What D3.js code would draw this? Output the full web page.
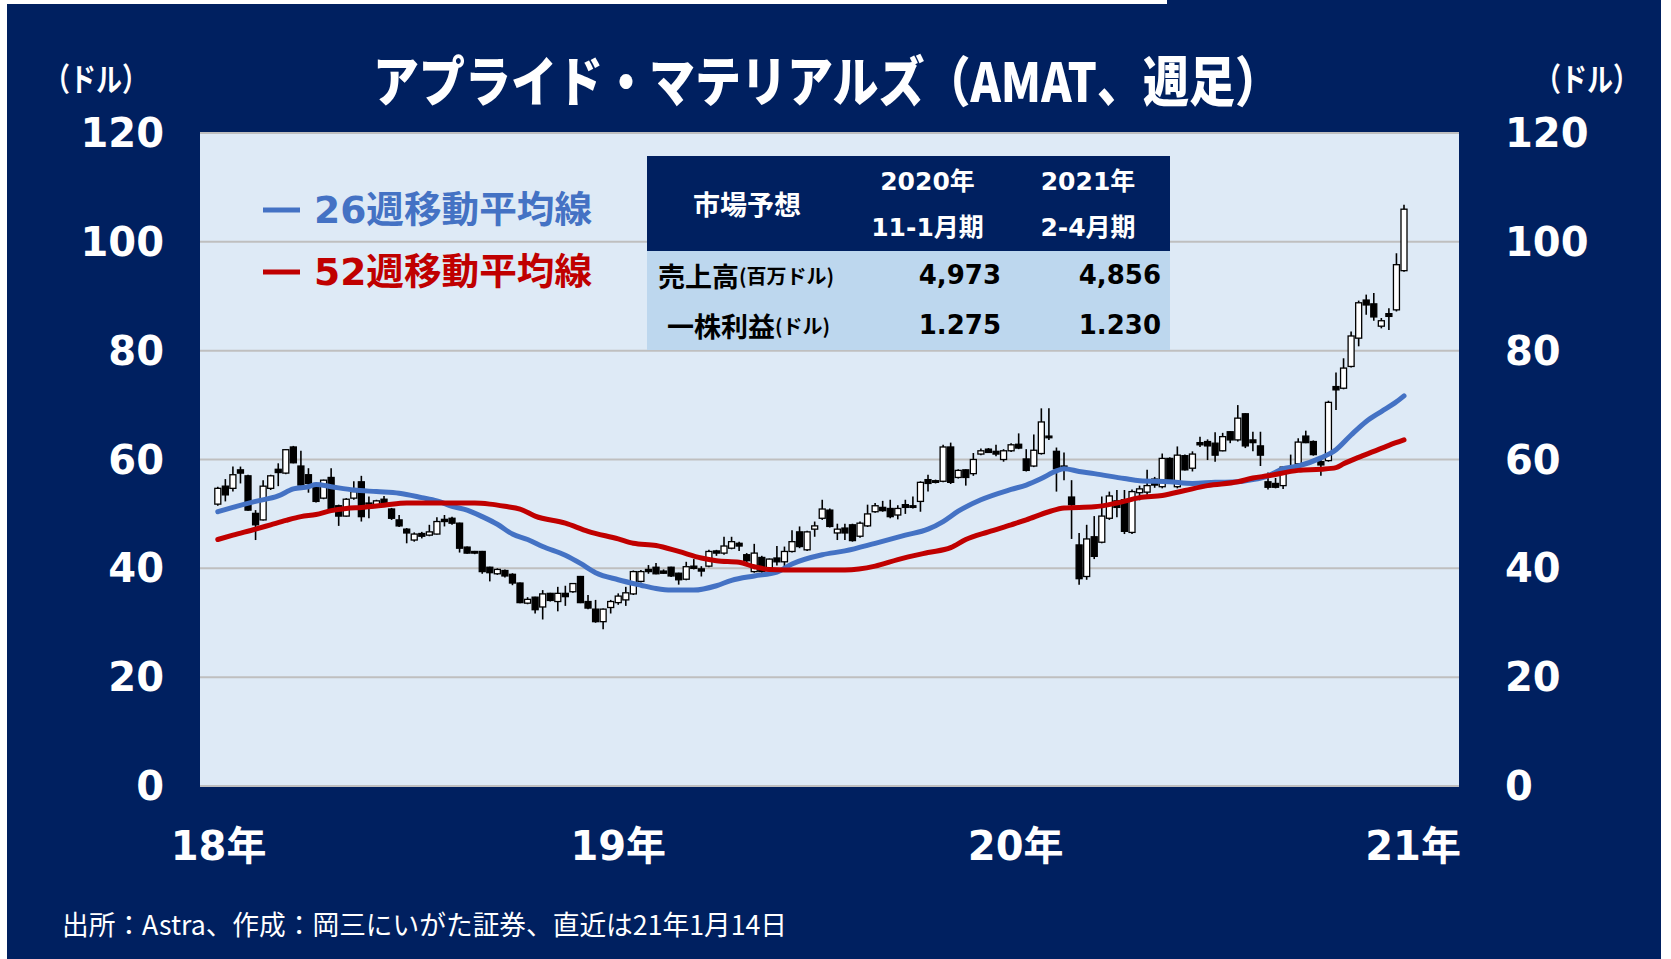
<!DOCTYPE html>
<html>
<head>
<meta charset="utf-8">
<script src="https://cdn.jsdelivr.net/npm/d3@7"></script>
<style>
  body { margin: 0; background: #ffffff; }
  svg { display: block; }
</style>
</head>
<body>
<script>
// weekly candles, 2018-01 .. 2021-01-14 (158 weeks)
var open = [
  51.8, 55.1, 54.7, 58.1, 57.0, 50.1, 48.9, 54.7, 58.2, 57.5,
  62.3, 58.8, 57.2, 55.5, 52.9, 56.7, 51.5, 49.6, 52.9, 55.9,
  52.0, 51.4, 52.7, 50.9, 48.9, 47.2, 45.2, 46.4, 46.1, 46.3,
  49.0, 49.2, 48.3, 43.9, 43.1, 43.1, 40.2, 39.0, 39.6, 38.9,
  37.3, 33.6, 34.7, 32.9, 35.4, 33.9, 35.4, 35.7, 38.5, 33.9,
  32.5, 30.2, 32.8, 33.7, 34.2, 35.3, 37.6, 39.8, 40.2, 39.5,
  40.2, 39.1, 38.0, 40.4, 39.9, 40.4, 43.2, 42.8, 43.7, 44.6,
  42.5, 39.4, 42.0, 40.0, 41.9, 41.2, 43.1, 46.7, 43.4, 47.2,
  49.2, 50.7, 46.5, 47.4, 48.0, 45.9, 47.8, 50.4, 51.2, 51.0,
  49.8, 51.7, 51.5, 52.3, 56.3, 56.1, 56.0, 62.3, 56.7, 58.1,
  57.4, 61.0, 61.9, 61.5, 60.0, 61.6, 62.8, 60.1, 58.8, 61.1,
  64.3, 61.5, 58.8, 53.1, 44.3, 38.5, 45.8, 44.8, 49.2, 52.4,
  52.6, 46.6, 53.9, 54.0, 56.4, 55.0, 60.2, 55.0, 60.7, 58.4,
  63.1, 63.3, 63.0, 61.6, 65.1, 63.6, 68.4, 63.6, 62.5, 55.9,
  55.6, 55.2, 58.3, 59.2, 64.3, 63.3, 59.6, 59.8, 73.4, 73.1,
  77.1, 82.3, 89.3, 88.6, 84.5, 86.8, 87.5, 94.7
];
var high = [
  55.0, 56.4, 58.7, 58.7, 57.2, 50.7, 56.2, 57.2, 59.3, 61.9,
  62.5, 61.6, 58.4, 55.6, 56.3, 58.4, 51.7, 52.9, 56.0, 57.0,
  53.2, 52.6, 53.3, 51.1, 49.8, 47.4, 46.6, 46.7, 48.0, 49.4,
  49.8, 49.5, 48.4, 44.0, 43.2, 43.2, 40.3, 40.0, 39.8, 39.1,
  37.4, 34.7, 34.8, 36.0, 35.5, 36.6, 36.8, 37.3, 38.6, 35.1,
  34.2, 32.6, 34.2, 35.4, 36.6, 39.6, 39.7, 40.6, 41.0, 39.8,
  40.3, 39.2, 41.2, 41.7, 40.4, 43.4, 43.4, 45.8, 45.8, 44.9,
  42.8, 44.5, 42.3, 41.8, 44.1, 44.0, 47.0, 47.7, 46.9, 48.6,
  52.6, 51.0, 48.2, 48.2, 48.2, 48.6, 51.7, 52.0, 52.4, 52.6,
  51.6, 52.6, 53.2, 56.0, 57.2, 56.3, 62.7, 63.1, 58.2, 58.2,
  61.2, 62.0, 62.1, 62.7, 61.9, 63.0, 64.8, 61.9, 64.6, 69.4,
  69.4, 62.2, 61.3, 56.2, 46.5, 48.0, 49.6, 53.2, 54.1, 54.4,
  54.4, 54.5, 55.2, 58.1, 56.8, 61.1, 60.4, 62.4, 60.9, 61.5,
  64.2, 63.7, 65.0, 64.9, 65.2, 70.0, 68.5, 65.1, 65.1, 57.6,
  56.6, 58.7, 60.9, 63.9, 65.3, 63.5, 60.5, 70.8, 76.0, 78.6,
  83.5, 89.2, 90.3, 90.6, 86.0, 87.8, 97.9, 106.8
];
var low = [
  51.5, 52.3, 54.1, 55.6, 50.6, 45.2, 48.8, 54.4, 55.1, 57.3,
  59.3, 55.2, 53.9, 52.1, 52.7, 50.8, 47.8, 49.5, 52.6, 48.6,
  49.2, 51.1, 51.7, 48.9, 47.6, 44.6, 44.9, 45.5, 45.9, 46.2,
  47.7, 48.0, 42.9, 42.7, 42.6, 39.0, 37.6, 38.8, 38.3, 36.9,
  33.6, 33.4, 31.7, 30.6, 33.9, 32.1, 33.1, 35.5, 33.6, 32.5,
  30.0, 28.8, 31.7, 33.3, 33.1, 35.1, 37.4, 39.0, 38.9, 39.0,
  38.4, 37.0, 37.8, 39.8, 38.5, 40.2, 42.3, 42.5, 43.5, 43.2,
  40.9, 39.2, 39.2, 39.8, 40.5, 40.2, 42.9, 43.7, 43.2, 45.8,
  48.9, 47.5, 45.2, 45.2, 44.9, 45.6, 47.6, 50.2, 50.4, 49.2,
  49.0, 50.0, 51.0, 50.4, 54.1, 55.6, 55.8, 55.5, 56.5, 55.2,
  57.0, 60.8, 61.2, 60.6, 59.6, 61.4, 61.9, 57.8, 58.6, 60.9,
  63.6, 54.1, 56.2, 45.4, 37.0, 37.9, 41.7, 44.6, 48.9, 49.4,
  46.3, 46.3, 52.5, 53.5, 54.8, 54.7, 56.1, 54.7, 58.0, 57.8,
  62.3, 59.9, 59.6, 61.5, 63.0, 63.3, 62.1, 61.5, 58.8, 54.5,
  54.7, 54.6, 57.5, 59.0, 63.0, 60.7, 57.0, 59.6, 69.1, 72.9,
  76.9, 80.8, 86.6, 85.5, 84.1, 83.8, 87.2, 94.5
];
var close = [
  54.7, 53.5, 57.2, 57.5, 50.7, 48.0, 55.1, 57.0, 57.6, 61.8,
  59.4, 55.3, 55.6, 52.3, 56.2, 51.0, 49.6, 52.7, 54.1, 49.5,
  51.8, 52.4, 52.1, 49.2, 47.8, 46.5, 46.3, 45.9, 46.7, 48.6,
  48.6, 48.3, 43.7, 42.8, 42.8, 39.4, 39.2, 39.8, 38.6, 37.3,
  33.7, 34.3, 32.4, 35.3, 34.1, 35.4, 34.8, 37.2, 33.7, 32.7,
  30.2, 32.5, 33.9, 34.9, 35.5, 39.4, 39.4, 39.4, 39.0, 39.1,
  38.6, 37.9, 40.3, 40.0, 39.5, 43.1, 42.8, 44.1, 44.9, 44.1,
  41.4, 42.8, 39.4, 41.7, 41.2, 43.1, 44.9, 44.0, 46.7, 47.8,
  50.9, 47.7, 47.2, 46.5, 45.1, 48.3, 50.0, 51.5, 50.6, 49.5,
  51.0, 51.2, 51.2, 55.8, 55.6, 55.8, 62.3, 55.8, 58.0, 56.7,
  60.0, 61.6, 61.3, 61.0, 61.6, 62.7, 62.1, 58.0, 61.7, 66.9,
  64.0, 58.3, 58.4, 51.7, 38.1, 45.4, 42.2, 49.6, 53.3, 51.2,
  46.8, 54.1, 54.6, 55.2, 55.3, 60.2, 56.2, 60.8, 58.1, 61.0,
  62.7, 62.5, 60.8, 64.2, 63.6, 67.6, 62.5, 63.1, 60.8, 54.9,
  54.9, 58.6, 58.6, 63.2, 63.1, 60.9, 59.0, 70.5, 72.8, 76.8,
  82.7, 88.8, 88.4, 86.2, 85.5, 86.3, 95.8, 106.0
];

// moving averages read at sample weeks
var ma26Week = [0, 2, 5, 8, 10, 12, 13, 15, 18, 21, 24, 27, 29, 31, 33, 35, 37, 39, 41, 43, 46, 48, 50, 53, 56, 58, 60, 63, 66, 68, 71, 74, 76, 80, 83, 87, 91, 94, 96, 98, 101, 105, 107, 109, 111, 112, 114, 116, 120, 122, 126, 129, 132, 135, 137, 139, 141, 143, 146, 148, 150, 152, 154, 156, 157];
var ma26 = [50.4, 51.2, 52.3, 53.3, 54.6, 55.0, 55.4, 55.0, 54.4, 54.1, 53.8, 53.0, 52.4, 51.4, 50.7, 49.5, 48.1, 46.3, 45.3, 44.0, 42.4, 40.9, 39.2, 37.9, 36.9, 36.3, 36.0, 36.0, 36.8, 37.8, 38.6, 39.3, 40.8, 42.5, 43.2, 44.6, 46.1, 47.2, 48.6, 50.5, 52.6, 54.5, 55.3, 56.5, 57.9, 58.3, 57.8, 57.4, 56.5, 56.1, 55.9, 55.6, 55.8, 55.9, 56.3, 57.0, 58.3, 58.8, 60.3, 61.8, 64.5, 67.0, 68.8, 70.6, 71.7];
var ma52Week = [0, 2, 5, 7, 9, 11, 13, 15, 17, 19, 22, 25, 30, 34, 36, 38, 40, 42, 46, 49, 53, 55, 58, 61, 64, 66, 69, 71, 73, 77, 83, 87, 90, 94, 97, 99, 102, 105, 107, 110, 112, 116, 119, 122, 125, 128, 131, 135, 137, 139, 143, 146, 148, 149, 151, 153, 155, 157];
var ma52 = [45.3, 46.1, 47.2, 48.0, 48.8, 49.5, 49.9, 50.6, 51.0, 51.2, 51.6, 52.0, 52.0, 52.0, 51.8, 51.4, 50.9, 49.6, 48.3, 46.8, 45.4, 44.6, 44.2, 43.1, 41.9, 41.4, 41.1, 40.3, 39.8, 39.7, 39.7, 40.4, 41.6, 42.9, 43.8, 45.3, 46.7, 48.0, 48.9, 50.4, 51.1, 51.3, 52.0, 53.0, 53.4, 54.3, 55.2, 55.9, 56.6, 57.0, 58.0, 58.2, 58.5, 59.2, 60.4, 61.5, 62.6, 63.6];

var yTicks = [0, 20, 40, 60, 80, 100, 120];
var yearLabels = ["18年", "19年", "20年", "21年"];
var yearWeek = [0.1, 53, 105.6, 158.2];

var tableCols = [["2020年", "11-1月期"], ["2021年", "2-4月期"]];
var tableRows = [["売上高", "(百万ドル)"], ["一株利益", "(ドル)"]];
var tableVals = [["4,973", "4,856"], ["1.275", "1.230"]];

var W = 1671, H = 959;
var navy = "#002060";
var JP = "'Noto Sans CJK JP', sans-serif";
var NUM = "'DejaVu Sans', 'Noto Sans CJK JP', sans-serif";

var svg = d3.select("body").append("svg").attr("width", W).attr("height", H);

svg.append("rect").attr("x", 7).attr("y", 0).attr("width", 1654).attr("height", H).attr("fill", navy);
svg.append("rect").attr("x", 0).attr("y", 0).attr("width", 1167).attr("height", 4).attr("fill", "#ffffff");

var plotL = 200, plotR = 1459, plotT = 133, plotB = 786;
var x = d3.scaleLinear().domain([0, open.length - 1]).range([217.8, 1404]);
var y = d3.scaleLinear().domain([0, 120]).range([plotB, plotT]);

svg.append("rect").attr("x", plotL).attr("y", plotT).attr("width", plotR - plotL).attr("height", plotB - plotT)
  .attr("fill", "#deeaf6");

svg.selectAll("line.grid").data(yTicks).enter().append("line")
  .attr("x1", plotL).attr("x2", plotR)
  .attr("y1", function (d) { return y(d); }).attr("y2", function (d) { return y(d); })
  .attr("stroke", "#bfbfbf").attr("stroke-width", 2);

// axis labels
svg.selectAll("text.yl").data(yTicks).enter().append("text")
  .attr("x", 164).attr("y", function (d) { return y(d); })
  .attr("text-anchor", "end").attr("dominant-baseline", "central")
  .attr("font-family", NUM).attr("font-weight", "bold").attr("font-size", 40)
  .attr("fill", "#ffffff").text(function (d) { return d; });
svg.selectAll("text.yr").data(yTicks).enter().append("text")
  .attr("x", 1505).attr("y", function (d) { return y(d); })
  .attr("text-anchor", "start").attr("dominant-baseline", "central")
  .attr("font-family", NUM).attr("font-weight", "bold").attr("font-size", 40)
  .attr("fill", "#ffffff").text(function (d) { return d; });

svg.selectAll("text.xl").data(yearLabels).enter().append("text")
  .attr("x", function (d, i) { return x(yearWeek[i]); }).attr("y", 846)
  .attr("text-anchor", "middle").attr("dominant-baseline", "central")
  .attr("font-family", NUM).attr("font-weight", "bold").attr("font-size", 40)
  .attr("fill", "#ffffff").text(function (d) { return d; });

// candles
var idx = d3.range(open.length);
var cg = svg.append("g");
cg.selectAll("line").data(idx).enter().append("line")
  .attr("x1", function (i) { return x(i); }).attr("x2", function (i) { return x(i); })
  .attr("y1", function (i) { return y(high[i]); }).attr("y2", function (i) { return y(low[i]); })
  .attr("stroke", "#000").attr("stroke-width", 1.6);
cg.selectAll("rect").data(idx).enter().append("rect")
  .attr("x", function (i) { return x(i) - 3; }).attr("width", 6)
  .attr("y", function (i) { return y(Math.max(open[i], close[i])); })
  .attr("height", function (i) { return Math.max(1, Math.abs(y(open[i]) - y(close[i]))); })
  .attr("fill", function (i) { return close[i] >= open[i] ? "#ffffff" : "#000000"; })
  .attr("stroke", "#000").attr("stroke-width", 1.3);

// moving averages
var line = d3.line().curve(d3.curveMonotoneX);
svg.append("path")
  .attr("d", line(ma26Week.map(function (w, i) { return [x(w), y(ma26[i])]; })))
  .attr("fill", "none").attr("stroke", "#4472c4").attr("stroke-width", 5).attr("stroke-linecap", "round");
svg.append("path")
  .attr("d", line(ma52Week.map(function (w, i) { return [x(w), y(ma52[i])]; })))
  .attr("fill", "none").attr("stroke", "#c00000").attr("stroke-width", 5).attr("stroke-linecap", "round");

// legend
var legend = [["26週移動平均線", "#4472c4", 210], ["52週移動平均線", "#c00000", 272]];
legend.forEach(function (l) {
  svg.append("line").attr("x1", 263).attr("x2", 300).attr("y1", l[2]).attr("y2", l[2])
    .attr("stroke", l[1]).attr("stroke-width", 5);
  svg.append("text").attr("x", 314).attr("y", l[2]).attr("dominant-baseline", "central")
    .attr("font-family", NUM).attr("font-weight", "bold").attr("font-size", 37)
    .attr("textLength", 278).attr("lengthAdjust", "spacingAndGlyphs")
    .attr("fill", l[1]).text(l[0]);
});

// table
var tx = 647, tw = 523;
svg.append("rect").attr("x", tx).attr("y", 156).attr("width", tw).attr("height", 95).attr("fill", navy);
svg.append("rect").attr("x", tx).attr("y", 251).attr("width", tw).attr("height", 99).attr("fill", "#bdd7ee");
svg.append("text").attr("x", 747).attr("y", 203).attr("text-anchor", "middle").attr("dominant-baseline", "central")
  .attr("font-family", JP).attr("font-weight", "bold").attr("font-size", 27).attr("fill", "#fff").text("市場予想");
var colX = [927.5, 1088];
tableCols.forEach(function (c, i) {
  svg.append("text").attr("x", colX[i]).attr("y", 181).attr("text-anchor", "middle").attr("dominant-baseline", "central")
    .attr("font-family", NUM).attr("font-weight", "bold").attr("font-size", 25).attr("fill", "#fff").text(c[0]);
  svg.append("text").attr("x", colX[i]).attr("y", 227).attr("text-anchor", "middle").attr("dominant-baseline", "central")
    .attr("font-family", NUM).attr("font-weight", "bold").attr("font-size", 25).attr("fill", "#fff").text(c[1]);
});
var rowY = [275, 325], rowX = [658, 667];
var valX = [1001, 1161];
tableRows.forEach(function (r, i) {
  var t = svg.append("text").attr("x", rowX[i]).attr("y", rowY[i]).attr("dominant-baseline", "central")
    .attr("font-family", JP).attr("font-weight", "bold").attr("fill", "#000");
  t.append("tspan").attr("font-size", 27).text(r[0]);
  t.append("tspan").attr("font-size", 20).text(r[1]);
  tableVals[i].forEach(function (v, j) {
    svg.append("text").attr("x", valX[j]).attr("y", rowY[i]).attr("text-anchor", "end").attr("dominant-baseline", "central")
      .attr("font-family", NUM).attr("font-weight", "bold").attr("font-size", 26).attr("fill", "#000").text(v);
  });
});

// titles
svg.append("text").attr("x", 827).attr("y", 78).attr("text-anchor", "middle").attr("dominant-baseline", "central")
  .attr("font-family", JP).attr("font-weight", 900).attr("font-size", 54)
  .attr("textLength", 908).attr("lengthAdjust", "spacingAndGlyphs")
  .attr("fill", "#fff").text("アプライド・マテリアルズ（AMAT、週足）");
[96, 1587].forEach(function (cx) {
  svg.append("text").attr("x", cx).attr("y", 77).attr("text-anchor", "middle").attr("dominant-baseline", "central")
    .attr("font-family", JP).attr("font-weight", "bold").attr("font-size", 32)
    .attr("textLength", 104).attr("lengthAdjust", "spacingAndGlyphs")
    .attr("fill", "#fff").text("（ドル）");
});

svg.append("text").attr("x", 62).attr("y", 923).attr("dominant-baseline", "central")
  .attr("font-family", JP).attr("font-size", 27).attr("fill", "#fff")
  .attr("textLength", 725).attr("lengthAdjust", "spacingAndGlyphs")
  .text("出所：Astra、作成：岡三にいがた証券、直近は21年1月14日");
</script>
</body>
</html>
